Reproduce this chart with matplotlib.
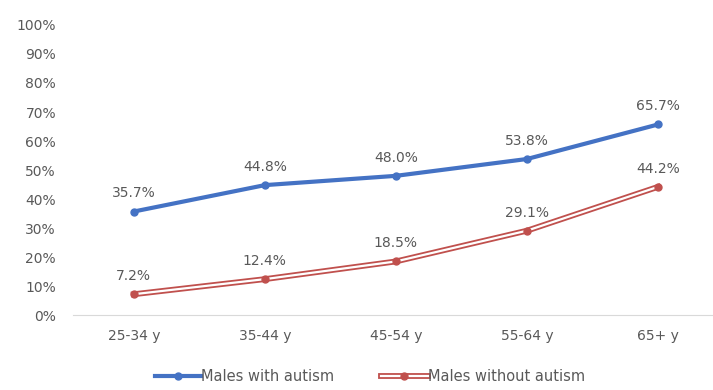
import matplotlib.pyplot as plt
from matplotlib.lines import Line2D
from matplotlib.legend_handler import HandlerTuple
from matplotlib.ticker import PercentFormatter

ages = ['25-34 y', '35-44 y', '45-54 y', '55-64 y', '65+ y']
with_autism = [35.7, 44.8, 48.0, 53.8, 65.7]
without_autism = [7.2, 12.4, 18.5, 29.1, 44.2]

grey = '#595959'
blue = '#4472C4'
red = '#C0504D'

fig = plt.figure(figsize=(7.13, 3.9), dpi=100)
ax = fig.add_axes([0.102, 0.192, 0.898, 0.744])

x = list(range(len(ages)))
ax.plot(x, with_autism, color=blue, lw=3, marker='o', ms=5, solid_capstyle='round')
# red series is drawn as a hollow (double) line
ax.plot(x, without_autism, color=red, lw=4.2, zorder=3)
ax.plot(x, without_autism, color='white', lw=1.6, zorder=3)
ax.plot(x, without_autism, color=red, lw=0, marker='o', ms=5, zorder=4)

for xi, v in zip(x, with_autism):
    ax.annotate(f'{v:.1f}%', (xi, v), xytext=(0, 8), textcoords='offset points',
                ha='center', va='bottom', fontsize=10, color=grey)
for xi, v in zip(x, without_autism):
    ax.annotate(f'{v:.1f}%', (xi, v), xytext=(0, 8), textcoords='offset points',
                ha='center', va='bottom', fontsize=10, color=grey)

ax.set_ylim(0, 100)
ax.set_xlim(-0.466, 4.42)
ax.set_yticks(range(0, 101, 10))
ax.yaxis.set_major_formatter(PercentFormatter(decimals=0))
ax.set_xticks(x)
ax.set_xticklabels(ages)
ax.tick_params(axis='both', length=0, labelsize=10, colors=grey)
ax.tick_params(axis='x', pad=10)
ax.tick_params(axis='y', pad=12)
for s in ['top', 'right', 'left']:
    ax.spines[s].set_visible(False)
ax.spines['bottom'].set_color('#d9d9d9')

h_blue = Line2D([], [], color=blue, lw=3, marker='o', ms=5)
h_red = (Line2D([], [], color=red, lw=4.2),
         Line2D([], [], color='white', lw=1.6),
         Line2D([], [], color=red, lw=0, marker='o', ms=5))
ax.legend([h_blue, h_red], ['Males with autism', 'Males without autism'],
          handler_map={tuple: HandlerTuple(ndivide=1)},
          loc='upper center', bbox_to_anchor=(0.464, -0.15), ncol=2, frameon=False,
          fontsize=10.5, labelcolor=grey, handlelength=3.2, handletextpad=0.0,
          columnspacing=3.2, borderpad=0.2)

fig.savefig('out.png', dpi=100)
